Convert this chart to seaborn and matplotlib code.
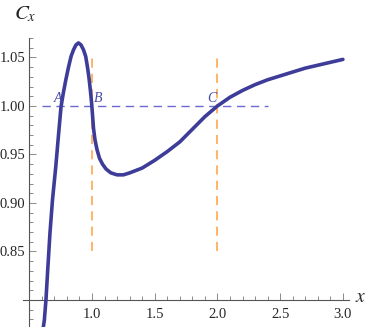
import pandas as pd
import seaborn as sns
import matplotlib.pyplot as plt
from matplotlib.ticker import MultipleLocator, FixedLocator

# curve values
x_vals = [0.612, 0.620, 0.633, 0.649, 0.665, 0.685, 0.711, 0.733, 0.753, 0.771,
          0.790, 0.811, 0.833, 0.853, 0.873, 0.892, 0.912, 0.932, 0.950, 0.964,
          0.976, 0.988, 0.997, 1.004, 1.012, 1.024, 1.040, 1.060, 1.084, 1.112,
          1.151, 1.200, 1.250, 1.300, 1.400, 1.500, 1.600, 1.700, 1.800, 1.900,
          2.000, 2.100, 2.200, 2.300, 2.400, 2.500, 2.600, 2.700, 2.800, 2.900,
          3.000]
cx_vals = [0.772, 0.779, 0.800, 0.835, 0.869, 0.903, 0.937, 0.970, 0.999, 1.013,
           1.026, 1.039, 1.051, 1.058, 1.063, 1.065, 1.063, 1.058, 1.051, 1.040,
           1.029, 1.015, 1.003, 0.991, 0.977, 0.965, 0.955, 0.946, 0.940, 0.935,
           0.931, 0.929, 0.929, 0.931, 0.936, 0.944, 0.953, 0.963, 0.976, 0.989,
           1.000, 1.009, 1.016, 1.022, 1.027, 1.031, 1.035, 1.039, 1.042, 1.045,
           1.048]

y_ticks = [0.85, 0.90, 0.95, 1.00, 1.05]
x_ticks = [1.0, 1.5, 2.0, 2.5, 3.0]
ref_level = 1.0
ref_span = [0.6, 2.4]
ref_x = [1.0, 2.0]
ref_x_span = [0.85, 1.05]
point_names = ['A', 'B', 'C']
point_x = [0.729, 1.048, 1.956]

df = pd.DataFrame({'x': x_vals, 'Cx': cx_vals})

sns.set_style("white")
plt.rcParams['font.family'] = ['Liberation Serif', 'DejaVu Serif']
plt.rcParams['mathtext.fontset'] = 'stix'

fig = plt.figure(figsize=(3.69, 3.27), dpi=100)
ax = fig.add_axes([0.0623, -0.0064, 0.884, 0.890])

# reference lines
ax.hlines(ref_level, ref_span[0], ref_span[1], colors='#6a6ad0', linewidth=1.0,
          linestyles=(0, (6, 4)), zorder=1)
for xv in ref_x:
    ax.vlines(xv, ref_x_span[0], ref_x_span[1], colors='#ffa040', linewidth=1.1,
              linestyles=(0, (6, 4)), zorder=1)

sns.lineplot(data=df, x='x', y='Cx', ax=ax, color='#3d3d99', linewidth=2.6,
             estimator=None, sort=False, zorder=3)

for name, xv in zip(point_names, point_x):
    ax.text(xv, 1.008, name, color='#4a4aa8', fontsize=10, style='italic',
            ha='center', va='center', zorder=4)

ax.set_xlim(0.45, 3.05)
ax.set_ylim(0.77, 1.07)

for side in ['top', 'right']:
    ax.spines[side].set_visible(False)
ax.spines['left'].set_position(('data', 0.5))
ax.spines['bottom'].set_position(('data', 0.8))
for side in ['left', 'bottom']:
    ax.spines[side].set_color('#555555')
    ax.spines[side].set_linewidth(0.8)

ax.xaxis.set_major_locator(FixedLocator(x_ticks))
ax.yaxis.set_major_locator(FixedLocator(y_ticks))
ax.xaxis.set_minor_locator(MultipleLocator(0.1))
ax.yaxis.set_minor_locator(MultipleLocator(0.01))
ax.set_xticklabels([f'{t:.1f}' for t in x_ticks])
ax.set_yticklabels([f'{t:.2f}' for t in y_ticks])
ax.tick_params(which='both', direction='in', color='#777777', width=0.6,
               labelsize=10.5, left=True, bottom=True)
ax.tick_params(which='major', length=5)
ax.tick_params(which='minor', length=3)
ax.tick_params(axis='x', pad=6)
ax.tick_params(axis='y', pad=3)

ax.set_xlabel('')
ax.set_ylabel('')
fig.text(25 / 369, 1 - 14 / 327, r'$C_x$', fontsize=15, ha='center', va='center')
fig.text(361 / 369, 1 - 297 / 327, r'$x$', fontsize=14, ha='center', va='center')

fig.savefig('out.png', dpi=100)
